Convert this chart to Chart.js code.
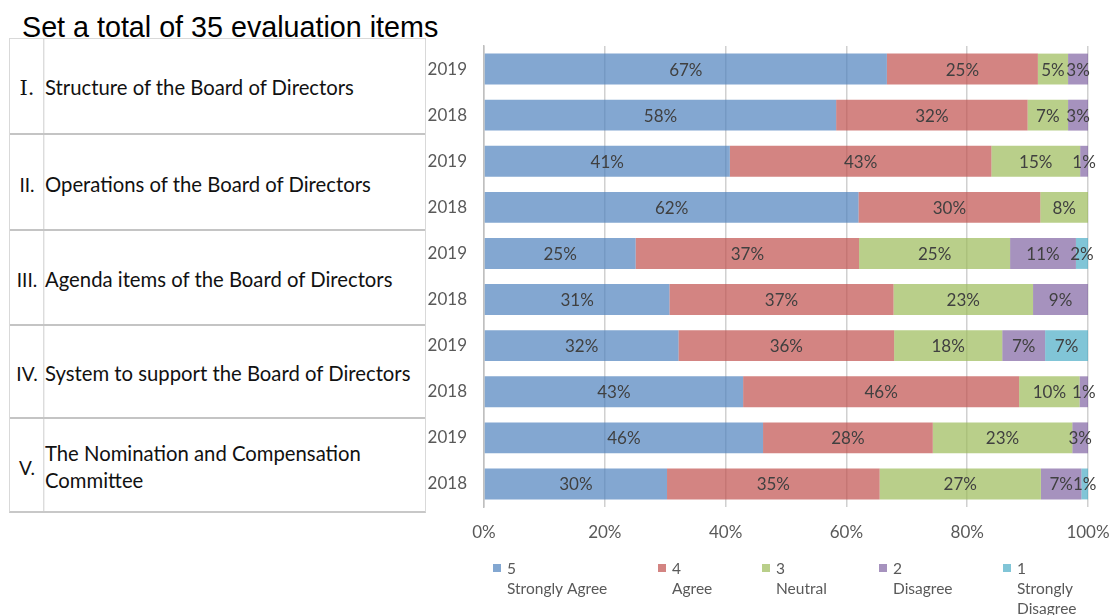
<!DOCTYPE html>
<html>
<head>
<meta charset="utf-8">
<script src="https://cdn.jsdelivr.net/npm/chart.js@4.4.1/dist/chart.umd.min.js"></script>
<style>
  html, body { margin:0; padding:0; background:#fff; }
  body { width:1110px; height:615px; position:relative; overflow:hidden; }
  #c { position:absolute; left:0; top:0; }
  #title { position:absolute; left:22px; top:13px; font-family:"Liberation Sans", Arial, sans-serif; font-size:28.7px; line-height:28.5px; color:#000; white-space:nowrap; }
  #tbl { position:absolute; left:9px; top:38px; width:415px; height:472px; border:1px solid #d9d9d9; border-bottom:2px solid #c8c8c8; }
  #vline { position:absolute; left:33px; top:0; width:1px; height:100%; background:#dcdcdc; box-shadow:1px 0 0 #f0f0f0; }
  .row { position:absolute; left:0; width:415px; display:flex; align-items:center; font-family:Lato, "Noto Sans", sans-serif; font-size:20.3px; color:#111; box-sizing:border-box; }
  .row.sep { border-top:2px solid #c4c4c4; }
  .num { width:34px; text-align:center; flex:none; padding-top:4px; font-size:19px; }
  .name { padding-left:1px; padding-top:4px; line-height:27px; white-space:nowrap; }
  .serif { font-family:"DejaVu Serif", "Liberation Serif", serif; font-size:21px; }
</style>
</head>
<body>
<div id="title">Set a total of 35 evaluation items</div>
<div id="tbl"><div id="vline"></div></div>
<canvas id="c" width="1110" height="615"></canvas>
<script>
// ---- data ----
const categories = ['2019','2018','2019','2018','2019','2018','2019','2018','2019','2018'];
const stronglyAgree    = [66.7, 58.3, 40.7, 62.0, 25.1, 30.7, 32.2, 42.9, 46.2, 30.3];
const agree            = [25.0, 31.7, 43.3, 30.1, 37.0, 37.1, 35.7, 45.7, 28.1, 35.2];
const neutral          = [ 5.0,  6.7, 14.7,  7.9, 25.0, 23.1, 17.9, 10.0, 23.1, 26.7];
const disagree         = [ 3.3,  3.3,  1.3,  0.0, 10.9,  9.1,  7.1,  1.4,  2.6,  6.7];
const stronglyDisagree = [ 0.0,  0.0,  0.0,  0.0,  2.0,  0.0,  7.1,  0.0,  0.0,  1.1];
const seriesNames = ['5 Strongly Agree','4 Agree','3 Neutral','2 Disagree','1 Strongly Disagree'];
const legendLines = [['5','Strongly Agree'],['4','Agree'],['3','Neutral'],['2','Disagree'],['1','Strongly','Disagree']];
const xTicks = [0, 20, 40, 60, 80, 100];
const sectionNumerals = ['Ⅰ.', 'II.', 'III.', 'IV.', 'V.'];
const sectionNames = ['Structure of the Board of Directors', 'Operations of the Board of Directors', 'Agenda items of the Board of Directors', 'System to support the Board of Directors', 'The Nomination and Compensation Committee'];

// ---- left table ----
const bounds = [38, 133, 229, 324, 417, 511];
const tbl = document.getElementById('tbl');
sectionNames.forEach((nm, i) => {
  const r = document.createElement('div');
  r.className = 'row' + (i > 0 ? ' sep' : '');
  r.style.top = (bounds[i] - 39) + 'px';
  r.style.height = (bounds[i + 1] - bounds[i]) + 'px';
  const n = document.createElement('div');
  n.className = 'num' + (i === 0 ? ' serif' : '');
  n.textContent = sectionNumerals[i];
  const t = document.createElement('div');
  t.className = 'name';
  if (i === 4) { t.innerHTML = 'The Nomination and Compensation<br>Committee'; } else { t.textContent = nm; }
  r.appendChild(n); r.appendChild(t);
  tbl.appendChild(r);
});

// ---- chart ----
const colors = ['rgba(79,129,189,0.7)','rgba(192,80,77,0.7)','rgba(155,187,89,0.7)','rgba(128,100,162,0.7)','rgba(75,172,198,0.7)'];
const seriesData = [stronglyAgree, agree, neutral, disagree, stronglyDisagree];
const FONT = 'Lato, "Noto Sans", sans-serif';

const labelPlugin = {
  id: 'segLabels',
  afterDatasetsDraw(chart) {
    const ctx = chart.ctx;
    ctx.save();
    ctx.font = '17px ' + FONT;
    ctx.fillStyle = '#404040';
    ctx.textAlign = 'center';
    ctx.textBaseline = 'middle';
    chart.data.datasets.forEach((ds, di) => {
      const meta = chart.getDatasetMeta(di);
      meta.data.forEach((bar, i) => {
        const v = ds.data[i];
        if (!v) return;
        ctx.fillText(Math.round(v) + '%', (bar.x + bar.base) / 2, bar.y + 1);
      });
    });
    ctx.restore();
  }
};

const legendPlugin = {
  id: 'customLegend',
  afterDraw(chart) {
    const ctx = chart.ctx;
    const boxX = [493, 658, 762, 879, 1003];
    const lineY = [569, 589, 609];
    ctx.save();
    ctx.font = '15.5px ' + FONT;
    ctx.textBaseline = 'middle';
    ctx.textAlign = 'left';
    legendLines.forEach((lines, i) => {
      ctx.fillStyle = colors[i];
      ctx.fillRect(boxX[i], 564, 8, 8);
      ctx.fillStyle = '#595959';
      lines.forEach((ln, k) => ctx.fillText(ln, boxX[i] + 14, lineY[k]));
    });
    ctx.restore();
  }
};

new Chart(document.getElementById('c'), {
  type: 'bar',
  data: {
    labels: categories,
    datasets: seriesData.map((d, i) => ({
      label: seriesNames[i],
      data: d,
      backgroundColor: colors[i],
      borderWidth: 0,
      barPercentage: 0.67,
      categoryPercentage: 1.0
    }))
  },
  options: {
    indexAxis: 'y',
    responsive: false,
    animation: false,
    devicePixelRatio: 1,
    layout: { padding: { top: 46, right: 22, left: 0, bottom: 0 } },
    plugins: { legend: { display: false }, tooltip: { enabled: false } },
    scales: {
      x: {
        stacked: true, min: 0, max: 100,
        afterFit: s => { s.height = 108; s.paddingRight = 0; },
        afterBuildTicks: s => { s.ticks = xTicks.map(v => ({ value: v })); },
        grid: { color: '#d0d0d0', lineWidth: 1.5, drawTicks: false },
        border: { display: false },
        ticks: { padding: 15, color: '#595959', font: { family: FONT, size: 17 }, callback: v => v + '%' }
      },
      y: {
        stacked: true,
        afterFit: s => { s.width = 484; },
        grid: { display: false, drawTicks: false },
        border: { display: true, color: '#bfbfbf', width: 1.5 },
        ticks: { padding: 17, color: '#595959', font: { family: FONT, size: 17 } }
      }
    }
  },
  plugins: [labelPlugin, legendPlugin]
});
</script>
</body>
</html>
